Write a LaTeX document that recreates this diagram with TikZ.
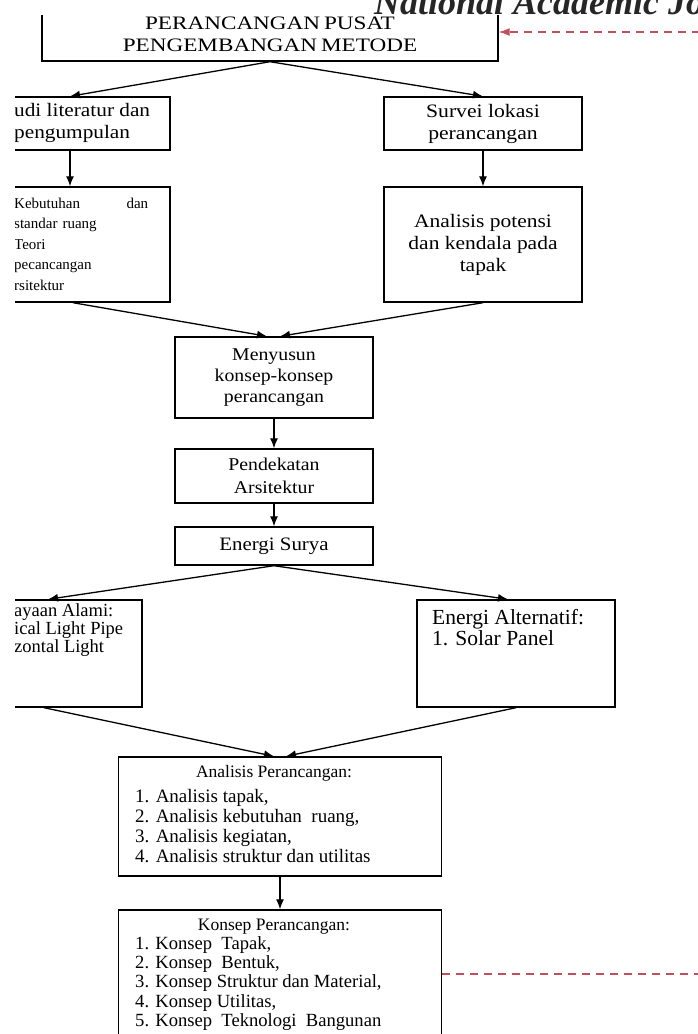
\documentclass[tikz,border=0pt]{standalone}
\usepackage{graphicx}
\usepackage{fontspec}
\setmainfont{Liberation Serif}
\usetikzlibrary{arrows.meta}

\definecolor{linkred}{RGB}{192,80,92}
\newcommand{\setfs}[2]{\fontsize{#1}{#2}\selectfont}
\newcommand{\stretchx}[2][1.2]{\scalebox{#1}[1]{#2}}

\tikzset{
  box/.style={draw, line width=1.4pt, inner sep=0pt},
  txt/.style={inner sep=0pt, align=left},
  arr/.style={-{Latex[length=10pt,width=8pt]}, line width=1.3pt},
  link/.style={draw=linkred, line width=1.3pt, dash pattern=on 8pt off 6pt}
}

\begin{document}
\begin{tikzpicture}[x=1pt,y=-1pt]
\useasboundingbox (0,0) rectangle (698,1034);

% page header, cut at the top
\begin{scope}
  \clip (0,0) rectangle (698,15);
  \node[anchor=base west, inner sep=0pt, text=black!85, font=\setfs{36}{36}\bfseries\itshape] (journal) at (374,14) {National Academic Jo};
\end{scope}

\begin{scope}
\clip (15,15) rectangle (698,1034);

% boxes
\node[box, minimum width=456, minimum height=54, align=center, font=\setfs{19}{22}] (pusat) at (270,34)
  {\stretchx[1.22]{PERANCANGAN\,PUSAT}\\\stretchx[1.22]{PENGEMBANGAN\,METODE}};
\node[box, minimum width=200, minimum height=53] (studi) at (70,123.5) {};
\node[txt, anchor=west, font=\setfs{19}{22}] (studitxt) at (14,123) {\stretchx[1.12]{udi literatur dan}\\\stretchx[1.12]{pengumpulan}};
\node[box, minimum width=198, minimum height=53, align=center, font=\setfs{19}{22}] (survei) at (483,123.5)
  {\stretchx[1.14]{Survei lokasi}\\\stretchx[1.14]{perancangan}};

\node[box, minimum width=200, minimum height=115] (kebutuhan) at (70,244.5) {};
\node[txt, anchor=west, text width=134, font=\setfs{15}{20.5}] (kebutuhantxt) at (14,244)
  {Kebutuhan\hfill dan\\standar ruang\\Teori\\pecancangan\\rsitektur};
\node[box, minimum width=198, minimum height=115, align=center, font=\setfs{19}{22}] (potensi) at (483,244.5)
  {\stretchx[1.13]{Analisis potensi}\\\stretchx[1.13]{dan kendala pada}\\\stretchx[1.13]{tapak}};

\node[box, minimum width=198, minimum height=81, align=center, font=\setfs{18}{21}] (menyusun) at (274,377.5)
  {\stretchx[1.1]{Menyusun}\\\stretchx[1.1]{konsep-konsep}\\\stretchx[1.1]{perancangan}};
\node[box, minimum width=198, minimum height=54, align=center, font=\setfs{18}{23}] (pendekatan) at (274,476)
  {\stretchx[1.1]{Pendekatan}\\\stretchx[1.1]{Arsitektur}};
\node[box, minimum width=198, minimum height=38, font=\setfs{19}{22}] (surya) at (274,546)
  {\stretchx[1.1]{Energi Surya}};

\node[box, minimum width=172, minimum height=107] (alami) at (56,653.5) {};
\node[txt, anchor=west, font=\setfs{18.5}{18}] (alamitxt) at (14,630)
  {ayaan Alami:\\ical Light Pipe\\zontal Light};
\node[box, minimum width=198, minimum height=107] (alternatif) at (516,653.5) {};
\node[txt, anchor=west, font=\setfs{21.5}{21}] (alternatiftxt) at (432,628)
  {Energi Alternatif:\\1. Solar Panel};

\node[box, minimum width=323, minimum height=119] (analisis) at (280,816.5) {};
\node[txt, font=\setfs{17.5}{20}] (analisistitle) at (274,773) {Analisis Perancangan:};
\node[txt, anchor=west, font=\setfs{19}{20.3}] (analisislist) at (135,826)
  {1. Analisis tapak,\\2. Analisis kebutuhan\ \ ruang,\\3. Analisis kegiatan,\\4. Analisis struktur dan utilitas};

\node[box, minimum width=323, minimum height=128] (konsep) at (280,974) {};
\node[txt, font=\setfs{17.5}{20}] (konseptitle) at (274,927) {Konsep Perancangan:};
\node[txt, anchor=west, font=\setfs{18.6}{19.3}] (konseplist) at (135,983.5)
  {1. Konsep\ \ Tapak,\\2. Konsep\ \ Bentuk,\\3. Konsep Struktur dan Material,\\4. Konsep Utilitas,\\5. Konsep\ \ Teknologi\ \ Bangunan};

% connectors
\draw[arr] (pusat.south) -- (studi.north);
\draw[arr] (pusat.south) -- (survei.north);
\draw[arr] (studi.south) -- (kebutuhan.north);
\draw[arr] (survei.south) -- (potensi.north);
\draw[arr] ([xshift=3pt]kebutuhan.south) -- ([xshift=-7pt]menyusun.north);
\draw[arr] (potensi.south) -- ([xshift=6pt]menyusun.north);
\draw[arr] (menyusun.south) -- (pendekatan.north);
\draw[arr] (pendekatan.south) -- (surya.north);
\draw[arr] (surya.south) -- ([xshift=-8pt]alami.north);
\draw[arr] (surya.south) -- ([xshift=-8pt]alternatif.north);
\draw[arr] ([xshift=-12pt]alami.south) -- ([xshift=-6pt]analisis.north);
\draw[arr] (alternatif.south) -- ([xshift=6pt]analisis.north);
\draw[arr] (analisis.south) -- (konsep.north);

% feedback lines
\coordinate (feedin) at (700,32);
\coordinate (feedout) at (700,974);
\draw[link, -{Latex[length=11pt,width=8pt]}] (feedin) -- (pusat.east |- feedin);
\draw[link] (konsep.east) -- (feedout);
\end{scope}
\end{tikzpicture}
\end{document}
